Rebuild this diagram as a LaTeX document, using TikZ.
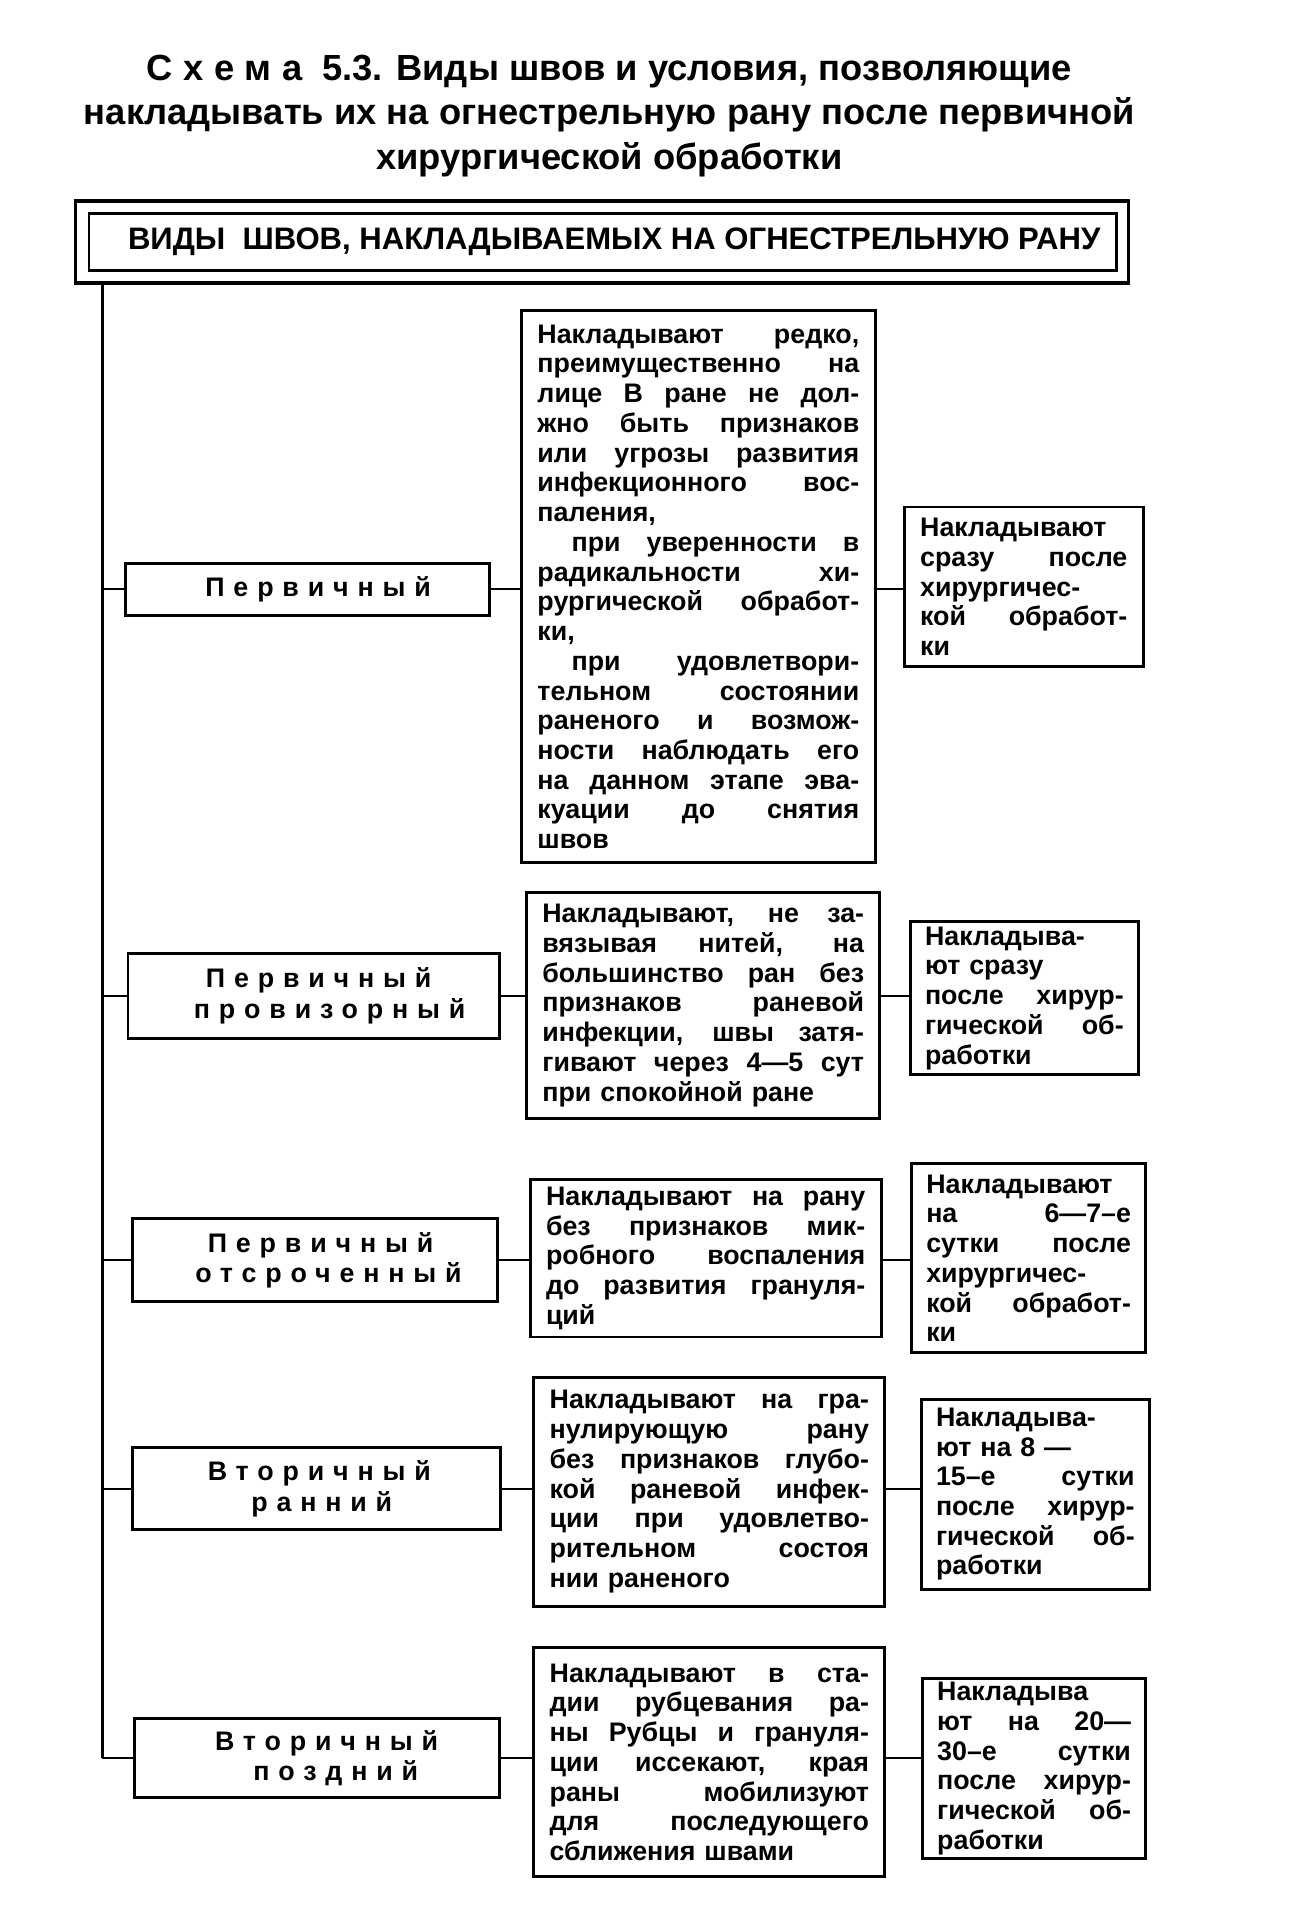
\documentclass[tikz,border=0pt]{standalone}
\usepackage{fontspec}
\setmainfont{Liberation Sans}
\newfontfamily\spacedfont{Liberation Sans}[LetterSpace=33]
\newcommand{\jline}[1]{\hbox to\linewidth{\spaceskip=.25em plus 1fil\relax#1}\par}
\newcommand{\lline}[1]{\noindent#1\par}
\tikzset{
  box/.style={draw, line width=2.4pt, inner sep=0pt},
  kind/.style 2 args={box, minimum width=#1, minimum height=#2, align=center,
    font=\spacedfont\bfseries\fontsize{22}{25}\selectfont},
  cond/.style n args={3}{box, minimum width=#1, minimum height=#2, text width=#3,
    align=left, font=\bfseries\fontsize{22}{24.4}\selectfont},
  link/.style={line width=2pt},
}
\begin{document}
\begin{tikzpicture}[x=1pt,y=-1pt]
  \useasboundingbox (0,0) rectangle (1058,1568);
  % title
  \node[align=center, font=\bfseries\fontsize{29.8}{36.5}\selectfont] (title) at (500,95)
    {{\addfontfeature{LetterSpace=30}Схема}\ \ 5.3. Виды швов и условия, позволяющие\\
     накладывать их на огнестрельную рану после первичной\\
     хирургической обработки};
  % header
  \node[draw, line width=3pt, minimum width=864pt, minimum height=67pt] (frame) at (494,198.5) {};
  \node[box, minimum width=843pt, minimum height=47pt] (head) at (494.5,198.5) {};
  \node[font=\bfseries\fontsize{25.5}{30}\selectfont] (headtext) at (504,198.5)
    {ВИДЫ\ \ ШВОВ, НАКЛАДЫВАЕМЫХ НА ОГНЕСТРЕЛЬНУЮ РАНУ};
  % kinds of sutures
  \node[kind={299pt}{43pt}] (k1) at (252.5,483.5) {\hspace*{17pt}Первичный};
  \node[kind={305pt}{70pt}] (k2) at (257.5,817) {\hspace*{8pt}Первичный\\\hspace*{26pt}провизорный};
  \node[kind={300pt}{68pt}] (k3) at (258.5,1034) {\hspace*{9pt}Первичный\\\hspace*{22pt}отсроченный};
  \node[kind={302pt}{67pt}] (k4) at (259.5,1221.5) {\hspace*{5pt}Вторичный\\\hspace*{9pt}ранний};
  \node[kind={300pt}{65pt}] (k5) at (260,1442.5) {\hspace*{16pt}Вторичный\\\hspace*{31pt}поздний};
  % conditions
  \node[cond={290pt}{453pt}{264pt}] (m1) at (573,481.5) {%
    \jline{Накладывают редко,}
    \jline{преимущественно на}
    \jline{лице В ране не дол-}
    \jline{жно быть признаков}
    \jline{или угрозы развития}
    \jline{инфекционного вос-}
    \lline{паления,}
    \jline{\kern28pt при уверенности в}
    \jline{радикальности хи-}
    \jline{рургической обработ-}
    \lline{ки,}
    \jline{\kern28pt при удовлетвори-}
    \jline{тельном состоянии}
    \jline{раненого и возмож-}
    \jline{ности наблюдать его}
    \jline{на данном этапе эва-}
    \jline{куации до снятия}
    \lline{швов}};
  \node[cond={290pt}{186pt}{264pt}] (m2) at (577,825) {%
    \jline{Накладывают, не за-}
    \jline{вязывая нитей, на}
    \jline{большинство ран без}
    \jline{признаков раневой}
    \jline{инфекции, швы затя-}
    \jline{гивают через 4—5 сут}
    \lline{при спокойной ране}};
  \node[cond={288pt}{129pt}{262pt}] (m3) at (579,1032.5) {%
    \jline{Накладывают на рану}
    \jline{без признаков мик-}
    \jline{робного воспаления}
    \jline{до развития грануля-}
    \lline{ций}};
  \node[cond={288pt}{188pt}{262pt}] (m4) at (582,1224) {%
    \jline{Накладывают на гра-}
    \jline{нулирующую рану}
    \jline{без признаков глубо-}
    \jline{кой раневой инфек-}
    \jline{ции при удовлетво-}
    \jline{рительном состоя}
    \lline{нии раненого}};
  \node[cond={288pt}{188pt}{262pt}] (m5) at (582,1446) {%
    \jline{Накладывают в ста-}
    \jline{дии рубцевания ра-}
    \jline{ны Рубцы и грануля-}
    \jline{ции иссекают, края}
    \jline{раны мобилизуют}
    \jline{для последующего}
    \lline{сближения швами}};
  % terms
  \node[cond={196pt}{131pt}{170pt}] (r1) at (840,481.5) {%
    \lline{Накладывают}
    \jline{сразу после}
    \lline{хирургичес-}
    \jline{кой обработ-}
    \lline{ки}};
  \node[cond={187pt}{126pt}{163pt}] (r2) at (840.5,819) {%
    \lline{Накладыва-}
    \lline{ют сразу}
    \jline{после хирур-}
    \jline{гической об-}
    \lline{работки}};
  \node[cond={192pt}{155pt}{168pt}] (r3) at (844,1032.5) {%
    \lline{Накладывают}
    \jline{на 6—7–е}
    \jline{сутки после}
    \lline{хирургичес-}
    \jline{кой обработ-}
    \lline{ки}};
  \node[cond={187pt}{156pt}{163pt}] (r4) at (849.5,1226) {%
    \lline{Накладыва-}
    \lline{ют на 8 —}
    \jline{15–е сутки}
    \jline{после хирур-}
    \jline{гической об-}
    \lline{работки}};
  \node[cond={183pt}{148pt}{159pt}] (r5) at (848.5,1451) {%
    \lline{Накладыва}
    \jline{ют на 20—}
    \jline{30–е сутки}
    \jline{после хирур-}
    \jline{гической об-}
    \lline{работки}};
  % connectors
  \coordinate (trunk) at (84,232);
  \draw[link] (trunk) -- (trunk |- k5.west);
  \foreach \i in {1,...,5} {
    \draw[link] (trunk |- k\i.west) -- (k\i.west);
    \draw[link] (k\i.east) -- (k\i.east -| m\i.west);
    \draw[link] (k\i.east -| m\i.east) -- (k\i.east -| r\i.west);
  }
\end{tikzpicture}
\end{document}
